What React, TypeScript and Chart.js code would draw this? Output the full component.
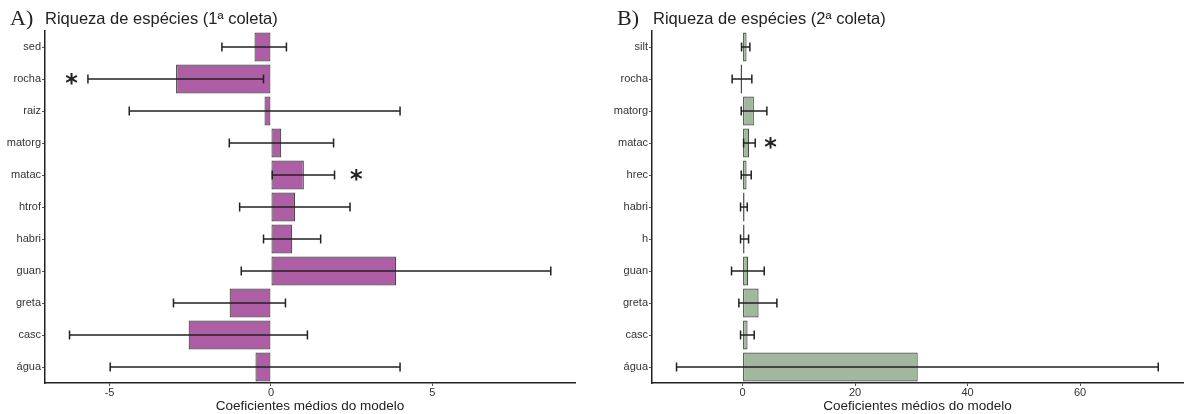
import React, { useEffect, useRef } from "react";
import { Chart, registerables } from "chart.js";

Chart.register(...registerables);

// Panel A: Riqueza de espécies (1ª coleta)
const catsA = ["sed", "rocha", "raiz", "matorg", "matac", "htrof", "habri", "guan", "greta", "casc", "água"];
const meanA = [-0.51, -2.94, -0.2, 0.32, 1.02, 0.75, 0.66, 3.88, -1.28, -2.55, -0.48];
const lowA = [-1.52, -5.67, -4.39, -1.29, 0.04, -0.97, -0.23, -0.92, -3.02, -6.24, -4.98];
const highA = [0.48, -0.23, 4.0, 1.94, 1.97, 2.45, 1.54, 8.67, 0.45, 1.13, 4.0];
const starA: (number | null)[] = [null, -6.18, null, null, 2.64, null, null, null, null, null, null];
const ticksA = [-5, 0, 5];
const minA = -7;
const maxA = 9.42;

// Panel B: Riqueza de espécies (2ª coleta)
const catsB = ["silt", "rocha", "matorg", "matac", "hrec", "habri", "h", "guan", "greta", "casc", "água"];
const meanB = [0.71, -0.2, 2.01, 1.18, 0.71, 0.23, 0.35, 1.0, 2.85, 0.89, 31.14];
const lowB = [-0.18, -1.85, -0.24, 0.18, -0.24, -0.36, -0.36, -1.96, -0.66, -0.36, -11.74];
const highB = [1.3, 1.65, 4.32, 2.25, 1.54, 0.83, 1.07, 3.85, 6.1, 2.07, 73.9];
const starB: (number | null)[] = [null, null, null, 4.98, null, null, null, null, null, null, null];
const ticksB = [0, 20, 40, 60];
const minB = -16.1;
const maxB = 78.3;

const SANS = '"Liberation Sans", Arial, sans-serif';
const SERIF = '"Liberation Serif", "Times New Roman", serif';

const errorBarPlugin = {
  id: "errorBars",
  afterDatasetsDraw(chart: any, _args: any, opts: any) {
    const { ctx } = chart;
    const xs = chart.scales.x;
    const ys = chart.scales.y;
    const low: number[] = opts.low || [];
    const high: number[] = opts.high || [];
    const stars: (number | null)[] = opts.stars || [];
    ctx.save();
    ctx.strokeStyle = "#222";
    ctx.lineWidth = 1.5;
    const cap = 4.5;
    for (let i = 0; i < low.length; i++) {
      const y = ys.getPixelForValue(i);
      const x1 = xs.getPixelForValue(low[i]);
      const x2 = xs.getPixelForValue(high[i]);
      ctx.beginPath();
      ctx.moveTo(x1, y);
      ctx.lineTo(x2, y);
      ctx.moveTo(x1, y - cap);
      ctx.lineTo(x1, y + cap);
      ctx.moveTo(x2, y - cap);
      ctx.lineTo(x2, y + cap);
      ctx.stroke();
    }
    ctx.fillStyle = "#222";
    ctx.font = 'bold 24px "DejaVu Sans", sans-serif';
    ctx.textAlign = "center";
    ctx.textBaseline = "alphabetic";
    for (let i = 0; i < stars.length; i++) {
      const s = stars[i];
      if (s === null || s === undefined) continue;
      const cx = xs.getPixelForValue(s);
      const cy = ys.getPixelForValue(i);
      const m = ctx.measureText("*");
      const asc = m.actualBoundingBoxAscent;
      const desc = m.actualBoundingBoxDescent;
      ctx.fillText("*", cx, cy + (asc - desc) / 2);
    }
    ctx.restore();
  },
};

function makeConfig(
  cats: string[],
  mean: number[],
  low: number[],
  high: number[],
  stars: (number | null)[],
  tickVals: number[],
  min: number,
  max: number,
  fill: string,
  yWidth: number,
  rightPad: number
): any {
  return {
    type: "bar",
    data: {
      labels: cats,
      datasets: [
        {
          data: mean,
          backgroundColor: fill,
          borderColor: "#4a4a4a",
          borderWidth: 1.2,
          borderSkipped: false,
          minBarLength: 2,
          barPercentage: 0.9,
          categoryPercentage: 1,
        },
      ],
    },
    plugins: [errorBarPlugin],
    options: {
      indexAxis: "y",
      responsive: false,
      animation: false,
      layout: { padding: { top: 31, right: rightPad, bottom: 0, left: 0 } },
      plugins: {
        legend: { display: false },
        tooltip: { enabled: false },
        title: { display: false },
        errorBars: { low, high, stars },
      },
      scales: {
        x: {
          type: "linear",
          min,
          max,
          afterBuildTicks(scale: any) {
            scale.ticks = tickVals.map((v) => ({ value: v }));
          },
          afterFit(scale: any) {
            scale.height = 31;
          },
          grid: {
            display: true,
            drawOnChartArea: false,
            drawTicks: true,
            tickLength: 3,
            color: "#555",
            lineWidth: 1,
          },
          border: { display: true, color: "#222", width: 1.5 },
          ticks: {
            padding: 0,
            color: "#333",
            font: { family: SANS, size: 11 },
            maxRotation: 0,
            autoSkip: false,
          },
          title: {
            display: true,
            text: "Coeficientes médios do modelo",
            color: "#222",
            font: { family: SANS, size: 13.5 },
            padding: { top: 0, bottom: 0 },
          },
        },
        y: {
          type: "category",
          afterFit(scale: any) {
            scale.width = yWidth;
          },
          grid: {
            display: true,
            offset: false,
            drawOnChartArea: false,
            drawTicks: true,
            tickLength: 3,
            color: "#555",
            lineWidth: 1,
          },
          border: { display: true, color: "#222", width: 1.5 },
          ticks: {
            padding: 1,
            color: "#333",
            font: { family: SANS, size: 11 },
            autoSkip: false,
          },
        },
      },
    },
  };
}

function Panel(props: {
  left: number;
  width: number;
  letter: string;
  letterLeft: number;
  titleLeft: number;
  title: string;
  config: any;
}) {
  const ref = useRef<HTMLCanvasElement | null>(null);
  useEffect(() => {
    if (!ref.current) return;
    const chart = new Chart(ref.current, props.config);
    return () => chart.destroy();
  }, []);
  return (
    <div style={{ position: "absolute", left: props.left, top: 0, width: props.width, height: 414 }}>
      <canvas ref={ref} width={props.width} height={414} style={{ display: "block", width: props.width, height: 414 }} />
      <div
        style={{
          position: "absolute",
          left: props.letterLeft,
          top: 7,
          fontFamily: SERIF,
          fontSize: 22,
          lineHeight: "22px",
          color: "#222",
          whiteSpace: "nowrap",
        }}
      >
        {props.letter}
      </div>
      <div
        style={{
          position: "absolute",
          left: props.titleLeft,
          top: 8,
          fontFamily: SANS,
          fontSize: 16.5,
          lineHeight: "20px",
          color: "#222",
          whiteSpace: "nowrap",
        }}
      >
        {props.title}
      </div>
    </div>
  );
}

export default function App() {
  const cfgA = makeConfig(catsA, meanA, lowA, highA, starA, ticksA, minA, maxA, "#AE5EA4", 45, 25);
  const cfgB = makeConfig(catsB, meanB, lowB, highB, starB, ticksB, minB, maxB, "#A1B89E", 52, 6);
  return (
    <div style={{ position: "absolute", left: 0, top: 0, width: 1189, height: 414, background: "#fff" }}>
      <Panel left={0} width={600} letter="A)" letterLeft={10} titleLeft={45} title="Riqueza de espécies (1ª coleta)" config={cfgA} />
      <Panel left={600} width={589} letter="B)" letterLeft={17} titleLeft={53} title="Riqueza de espécies (2ª coleta)" config={cfgB} />
    </div>
  );
}
